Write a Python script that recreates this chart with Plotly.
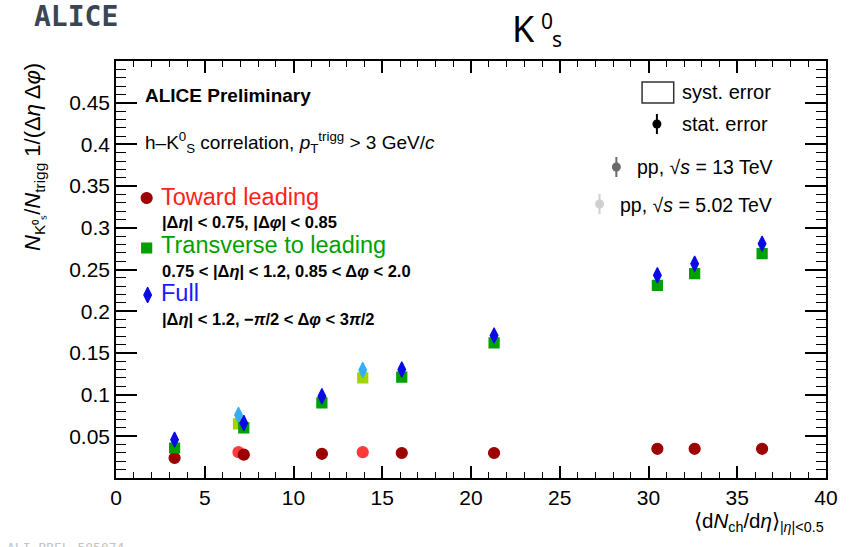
import plotly.graph_objects as go

# ---------------- data ----------------
x_13 = [3.3, 7.2, 11.6, 16.1, 21.3, 30.5, 32.6, 36.4]
toward_13 = [0.024, 0.028, 0.029, 0.030, 0.030, 0.035, 0.035, 0.035]
transverse_13 = [0.036, 0.060, 0.090, 0.121, 0.162, 0.231, 0.245, 0.269]
full_13 = [0.046, 0.066, 0.098, 0.130, 0.171, 0.243, 0.257, 0.281]

x_502 = [6.9, 13.9]
toward_502 = [0.031, 0.031]
transverse_502 = [0.065, 0.120]
full_502 = [0.0755, 0.1295]

x_ticks = [0, 5, 10, 15, 20, 25, 30, 35, 40]
y_ticks = [0.05, 0.1, 0.15, 0.2, 0.25, 0.3, 0.35, 0.4, 0.45]
y_ticktext = ["0.05", "0.1", "0.15", "0.2", "0.25", "0.3", "0.35", "0.4", "0.45"]

# ---------------- layout helpers ----------------
W, H = 850, 547
L, R, T, B = 116, 834, 61, 478


def px(x):
    return (x - L) / (R - L)


def py(y):
    return (B - y) / (B - T)


FONT = "Liberation Sans, Arial, sans-serif"

C_DRED = "#9c0000"
C_RED = "#ff3a3a"
C_GREEN = "#00a000"
C_YGREEN = "#a2d400"
C_BLUE = "#0a0ae6"
C_LBLUE = "#35aef8"

fig = go.Figure()


def series(xs, ys, sym, size, col):
    fig.add_trace(go.Scatter(x=xs, y=ys, mode="markers",
                             marker=dict(symbol=sym, size=size, color=col,
                                         line=dict(color=col, width=1.2)),
                             cliponaxis=False))


# 5.02 TeV first (drawn underneath)
series(x_502, toward_502, "circle", 11, C_RED)
series(x_502, transverse_502, "square", 10, C_YGREEN)
series(x_502, full_502, "diamond-tall", 11, C_LBLUE)
# 13 TeV
series(x_13, toward_13, "circle", 11, C_DRED)
series(x_13, transverse_13, "square", 10, C_GREEN)
series(x_13, full_13, "diamond-tall", 11, C_BLUE)

# ---------------- legend markers (overlay axis in [0,1]) ----------------
leg_sym = [
    (147, 198, "circle", 11, C_DRED),
    (147, 248, "square", 10, C_GREEN),
    (148, 295, "diamond-tall", 11, C_BLUE),
]
for (lx, ly, sym, sz, col) in leg_sym:
    fig.add_trace(go.Scatter(x=[px(lx)], y=[py(ly)], mode="markers", xaxis="x2", yaxis="y2",
                             marker=dict(symbol=sym, size=sz, color=col,
                                         line=dict(color=col, width=1.2)),
                             cliponaxis=False))

bar = 10 / (B - T)
for (lx, ly, col) in [(663, 124, "#000000"), (622, 167, "#6a6a6a"), (605, 204, "#cfcfcf")]:
    fig.add_trace(go.Scatter(x=[px(lx)], y=[py(ly)], mode="markers", xaxis="x2", yaxis="y2",
                             marker=dict(symbol="circle", size=9, color=col),
                             error_y=dict(type="constant", value=bar, width=0, color=col, thickness=2),
                             cliponaxis=False))

# syst. error box
fig.add_shape(type="rect", xref="paper", yref="paper",
              x0=px(648), x1=px(680), y0=py(103), y1=py(82),
              line=dict(color="#333333", width=1.5), fillcolor="rgba(0,0,0,0)")

ann = []


def text(x, y, s, size, color="black", xanchor="left", yanchor="middle", family=FONT, angle=0):
    ann.append(dict(x=px(x), y=py(y), xref="paper", yref="paper", text=s, showarrow=False,
                    xanchor=xanchor, yanchor=yanchor, textangle=angle,
                    font=dict(size=size, color=color, family=family)))


# header
text(31, 17, "<b>ALICE</b>", 28, color="#3b4654", family="DejaVu Sans Mono", xanchor="left")
text(528, 28, "K", 36, family="Noto Sans", xanchor="center")
text(552, 21, "0", 21, family="Noto Sans", xanchor="center")
text(562, 39, "s", 21, family="Noto Sans", xanchor="center")

# in-plot labels
text(143, 95, "<b>ALICE Preliminary</b>", 19)
text(143, 142, "h–K<sup>0</sup><sub>S</sub> correlation, <i>p</i><sub>T</sub><sup>trigg</sup> > 3 GeV/<i>c</i>", 19)
text(159, 197, "Toward leading", 23.5, color="#ff2020")
text(160, 222, "<b>|Δ<i>η</i>| &lt; 0.75, |Δ<i>φ</i>| &lt; 0.85</b>", 16.5)
text(159, 245, "Transverse to leading", 23.5, color=C_GREEN)
text(160, 271, "<b>0.75 &lt; |Δ<i>η</i>| &lt; 1.2, 0.85 &lt; Δ<i>φ</i> &lt; 2.0</b>", 16.5)
text(159, 293, "Full", 23.5, color="#1a1aff")
text(160, 319, "<b>|Δ<i>η</i>| &lt; 1.2, −<i>π</i>/2 &lt; Δ<i>φ</i> &lt; 3<i>π</i>/2</b>", 16.5)

text(686, 92, "syst. error", 20)
text(686, 124, "stat. error", 20)
text(641, 167, "pp, √<i>s</i> = 13 TeV", 19.5)
text(624, 205, "pp, √<i>s</i> = 5.02 TeV", 19.5)

# axis titles
ann.append(dict(x=px(33), y=1.0, xref="paper", yref="paper",
                text="<i>N</i><sub>K⁰ₛ</sub>/<i>N</i><sub>trigg</sub> 1/(Δ<i>η</i> Δ<i>φ</i>)",
                showarrow=False, textangle=-90, xanchor="center", yanchor="top",
                font=dict(size=22, color="black", family=FONT)))
text(834, 522, "⟨d<i>N</i><sub>ch</sub>/d<i>η</i>⟩<sub>|<i>η</i>|&lt;0.5</sub>", 20.5, xanchor="right")

# preliminary id
text(4, 538, "ALI-PREL-505074", 13, color="#c4c4c4", yanchor="top", family="DejaVu Sans Mono")

tick_common = dict(ticks="inside", tickcolor="black", showgrid=False, zeroline=False)

fig.update_layout(
    width=W, height=H,
    margin=dict(l=L, r=W - R, t=T, b=H - B, pad=0),
    paper_bgcolor="white", plot_bgcolor="white",
    showlegend=False,
    annotations=ann,
    xaxis=dict(range=[0, 40], tickvals=x_ticks, ticklen=12, tickwidth=1.5,
               showline=True, linecolor="black", linewidth=1.5, mirror=True,
               tickfont=dict(size=21, family=FONT, color="black"),
               minor=dict(dtick=1, tick0=0, ticks="inside", ticklen=6, tickwidth=1.2,
                          tickcolor="black", showgrid=False), **tick_common),
    yaxis=dict(range=[0, 0.5], tickvals=y_ticks, ticktext=y_ticktext,
               ticklen=21, tickwidth=1.5, showline=True, linecolor="black",
               linewidth=1.5, mirror=True,
               tickfont=dict(size=21, family=FONT, color="black"),
               minor=dict(dtick=0.01, tick0=0, ticks="inside", ticklen=10, tickwidth=1.2,
                          tickcolor="black", showgrid=False), **tick_common),
    xaxis2=dict(range=[0, 1], overlaying="x", visible=False, fixedrange=True),
    yaxis2=dict(range=[0, 1], overlaying="y", visible=False, fixedrange=True),
    # mirrored ticks (major + minor) on top and right
    xaxis3=dict(range=[0, 40], overlaying="x", side="top", anchor="y", tickvals=x_ticks,
                ticklen=12, tickwidth=1.5, showticklabels=False, showline=False,
                minor=dict(dtick=1, tick0=0, ticks="inside", ticklen=6, tickwidth=1.2,
                           tickcolor="black", showgrid=False), **tick_common),
    yaxis3=dict(range=[0, 0.5], overlaying="y", side="right", anchor="x", tickvals=y_ticks,
                ticklen=21, tickwidth=1.5, showticklabels=False, showline=False,
                minor=dict(dtick=0.01, tick0=0, ticks="inside", ticklen=10, tickwidth=1.2,
                           tickcolor="black", showgrid=False), **tick_common),
)

# invisible trace to activate the mirrored-tick axes
fig.add_trace(go.Scatter(x=[None], y=[None], xaxis="x3", yaxis="y3", mode="markers",
                         showlegend=False, hoverinfo="skip"))

fig.write_html("out.html")
